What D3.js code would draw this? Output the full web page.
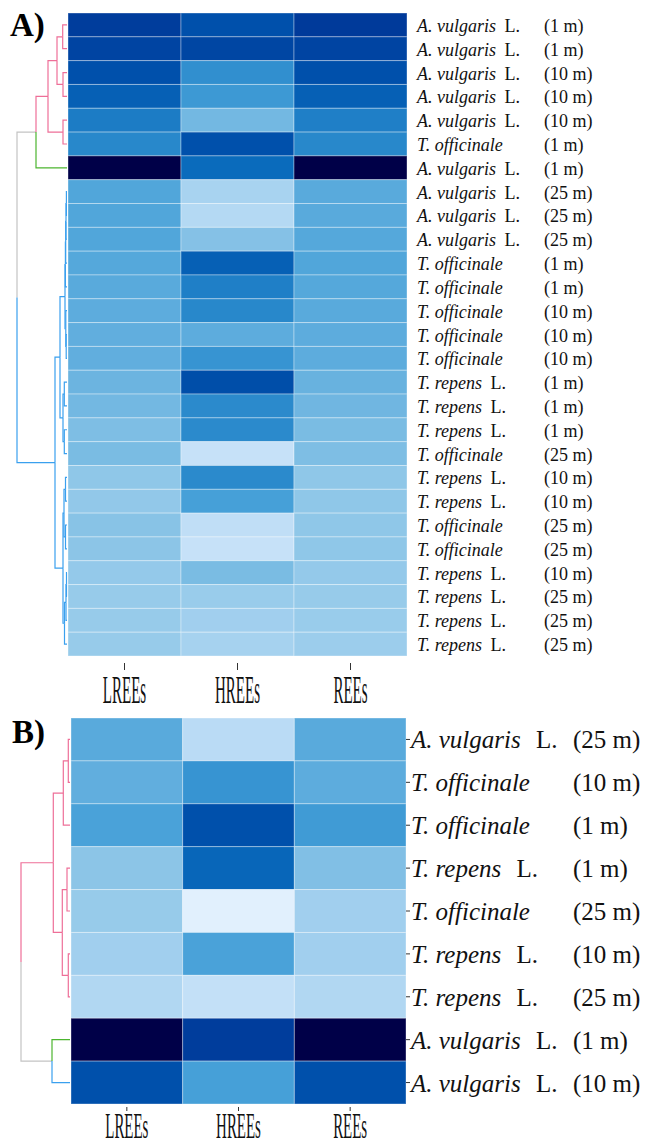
<!DOCTYPE html>
<html><head><meta charset="utf-8">
<script src="https://cdn.jsdelivr.net/npm/d3@7"></script>
<style>body{margin:0;background:#fff}svg{display:block}</style>
</head><body><svg id="c" width="646" height="1145"></svg>
<script>
// ---------- shared ----------
const columns = ["LREEs", "HREEs", "REEs"];
const colorStops = [0, 10, 20, 30, 40, 50, 60, 70, 80, 90, 100];
const colorRange = ["#e4f2fd", "#c6e1f8", "#a8d3f0", "#8fc7e8", "#6cb4e0", "#46a0d8",
                    "#2888cb", "#0a6bbc", "#0050ab", "#003898", "#000048"];
const groupColors = { p: "#ee6f98", g: "#4cb52f", b: "#3aa0ee", x: "#c4c4c4" };

// ---------- panel A ----------
const speciesA = ["A. vulgaris","A. vulgaris","A. vulgaris","A. vulgaris","A. vulgaris","T. officinale","A. vulgaris",
  "A. vulgaris","A. vulgaris","A. vulgaris","T. officinale","T. officinale","T. officinale","T. officinale","T. officinale",
  "T. repens","T. repens","T. repens","T. officinale","T. repens","T. repens","T. officinale","T. officinale",
  "T. repens","T. repens","T. repens","T. repens"];
const authorA = ["L.","L.","L.","L.","L.","","L.","L.","L.","L.","","","","","","L.","L.","L.","","L.","L.","","","L.","L.","L.","L."];
const distA = ["(1 m)","(1 m)","(10 m)","(10 m)","(10 m)","(1 m)","(1 m)","(25 m)","(25 m)","(25 m)","(1 m)","(1 m)",
  "(10 m)","(10 m)","(10 m)","(1 m)","(1 m)","(1 m)","(25 m)","(10 m)","(10 m)","(25 m)","(25 m)","(10 m)","(25 m)","(25 m)","(25 m)"];
const lreeA = [88, 85, 80, 74, 64, 60, 100, 47, 47, 47, 46, 45, 44, 43, 43, 40, 38, 35, 36, 30, 29, 32, 31, 28, 27, 27, 27];
const hreeA = [80, 84, 57, 53, 38, 80, 70, 20, 16, 33, 74, 63, 60, 44, 55, 81, 59, 59, 10, 59, 50, 12, 10, 36, 26, 23, 21];
const reeA  = [89, 85, 80, 74, 63, 60, 100, 45, 45, 46, 47, 46, 45, 44, 44, 41, 39, 36, 35, 30, 30, 30, 30, 28, 27, 26, 25];
const groupA = ["p","p","p","p","p","p","g","b","b","b","b","b","b","b","b","b","b","b","b","b","b","b","b","b","b","b","b"];
// dendrogram: [merge height, left, right], leaves are row indices
const treeA = [50,
  [31, [19, [10, [4.3, 0, 1], [4, 2, 3]], [4, 4, 5]], 6],
  [12,
    [7, [2, [1.6, [1.3, [1.0, [0.6, 7, 8], 9], 10], 11], [1.2, 12, [0.8, 13, 14]]],
        [4, [2.7, 15, 16], [2.7, 17, 18]]],
    [4, [3, [1.5, 19, 20], [1.5, 21, 22]], [2.5, [1, [0.5, 23, 24], 25], 26]]]];

// ---------- panel B ----------
const speciesB = ["A. vulgaris","T. officinale","T. officinale","T. repens","T. officinale","T. repens","T. repens","A. vulgaris","A. vulgaris"];
const authorB = ["L.","","","L.","","L.","L.","L.","L."];
const distB = ["(25 m)","(10 m)","(1 m)","(1 m)","(25 m)","(10 m)","(25 m)","(1 m)","(10 m)"];
const lreeB = [45, 43, 49, 31, 27, 23, 17, 100, 80];
const hreeB = [14, 55, 80, 72, 1, 49, 11, 88, 50];
const reeB  = [45, 44, 52, 34, 23, 23, 17, 100, 80];
const groupB = ["p","p","p","p","p","p","p","g","b"];
const treeB = [49,
  [16.7, [6.7, [1.7, 0, 1], 2], [7.7, [3, 3, 4], [1.7, 5, 6]]],
  [18, 7, 8]];

const color = d3.scaleLinear().domain(colorStops).range(colorRange).interpolate(d3.interpolateRgb);
const svg = d3.select("#c");
const SERIF = "'Liberation Serif','Times New Roman',serif";

function panel(cfg) {
  const g = svg.append("g");
  const n = cfg.species.length;
  const x = d3.scaleBand().domain(columns).range([cfg.left, cfg.right]);
  const y = d3.scaleBand().domain(d3.range(n)).range([cfg.top, cfg.bottom]);
  const vals = [cfg.lree, cfg.hree, cfg.ree];

  // cells
  const cells = [];
  columns.forEach((c, j) => vals[j].forEach((v, i) => cells.push({ c, i, v })));
  g.append("g").selectAll("rect").data(cells).join("rect")
    .attr("x", d => x(d.c)).attr("y", d => y(d.i))
    .attr("width", x.bandwidth()).attr("height", y.bandwidth())
    .attr("fill", d => color(d.v))
    .attr("stroke", "rgba(255,255,255,0.35)").attr("stroke-width", 1);

  // dendrogram
  const root = d3.hierarchy(cfg.tree, d => Array.isArray(d) ? d.slice(1) : null);
  const hx = d3.scaleLinear().domain([0, cfg.tree[0]]).range([cfg.leafX, cfg.rootX]);
  root.eachAfter(d => {
    if (!d.children) {
      d.py = y(d.data) + y.bandwidth() / 2;
      d.px = hx(0);
      d.col = groupColors[cfg.group[d.data]];
    } else {
      d.py = d3.mean(d.children, c => c.py);
      d.px = hx(d.data[0]);
      const cs = new Set(d.children.map(c => c.col));
      d.col = cs.size === 1 ? d.children[0].col : groupColors.x;
    }
  });
  g.append("g").attr("fill", "none").attr("stroke-width", 1.2)
    .selectAll("path").data(root.descendants().filter(d => d.parent)).join("path")
    .attr("stroke", d => d.col)
    .attr("d", d => `M${d.parent.px},${d.parent.py}V${d.py}H${d.px}`);

  // bottom axis
  const ax = g.append("g").attr("transform", `translate(0,${cfg.bottom + cfg.tickGap})`)
    .call(d3.axisBottom(x).tickSize(cfg.tickLen).tickSizeOuter(0));
  ax.select(".domain").remove();
  ax.selectAll(".tick line").attr("stroke", "#333");
  ax.selectAll(".tick text")
    .attr("y", null).attr("dy", null)
    .attr("transform", `translate(0,${cfg.axisBase - cfg.bottom - cfg.tickGap}) scale(${cfg.axisSx},1)`)
    .attr("font-family", SERIF).attr("font-size", cfg.axisFs).attr("fill", "#111");

  // right ticks (panel B)
  if (cfg.rightTicks) {
    const ay = g.append("g").attr("transform", `translate(${cfg.right},0)`)
      .call(d3.axisRight(y).tickSize(4).tickFormat(""));
    ay.select(".domain").remove();
    ay.selectAll(".tick line").attr("stroke", "#333");
  }

  // row labels
  const lab = g.append("g").attr("font-family", SERIF).attr("font-size", cfg.fs).attr("fill", "#111");
  const t = lab.selectAll("text.nm").data(d3.range(n)).join("text").attr("class", "nm")
    .attr("x", cfg.labelX).attr("y", i => y(i) + y.bandwidth() / 2 + cfg.baseOff);
  t.append("tspan").attr("font-style", "italic").text(i => cfg.species[i]);
  t.filter(i => cfg.author[i]).append("tspan").attr("dx", cfg.authorDx).text(i => " " + cfg.author[i]);
  lab.selectAll("text.ds").data(d3.range(n)).join("text").attr("class", "ds")
    .attr("x", cfg.distX).attr("y", i => y(i) + y.bandwidth() / 2 + cfg.baseOff)
    .text(i => cfg.dist[i]);

  // panel letter
  g.append("text").attr("x", cfg.letterX).attr("y", cfg.letterY)
    .attr("font-family", SERIF).attr("font-weight", "bold").attr("font-size", 33)
    .attr("fill", "#000").text(cfg.letter);
}

panel({
  species: speciesA, author: authorA, dist: distA, lree: lreeA, hree: hreeA, ree: reeA,
  group: groupA, tree: treeA,
  left: 68, right: 407, top: 13, bottom: 656, leafX: 67, rootX: 17,
  tickGap: 7, tickLen: 7, axisBase: 703, axisFs: 39, axisSx: 0.385,
  labelX: 417, distX: 544, fs: 18, baseOff: 7, authorDx: 4,
  rightTicks: false, letter: "A)", letterX: 10, letterY: 36
});
panel({
  species: speciesB, author: authorB, dist: distB, lree: lreeB, hree: hreeB, ree: reeB,
  group: groupB, tree: treeB,
  left: 71, right: 406, top: 718, bottom: 1104, leafX: 70, rootX: 21,
  tickGap: 3, tickLen: 4, axisBase: 1138, axisFs: 36, axisSx: 0.415,
  labelX: 411, distX: 573, fs: 25, baseOff: 9, authorDx: 9,
  rightTicks: true, letter: "B)", letterX: 12, letterY: 743
});
</script></body></html>
